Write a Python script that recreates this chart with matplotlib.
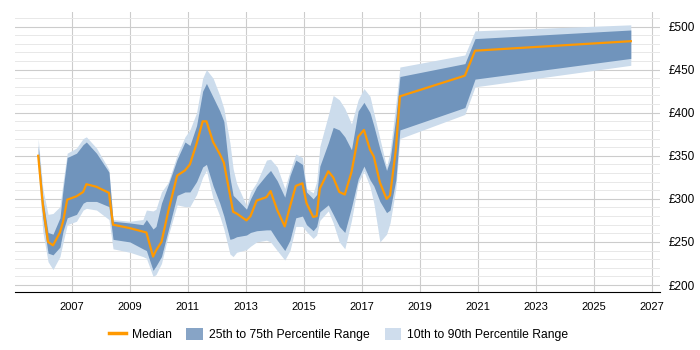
import matplotlib

matplotlib.use("Agg")
import matplotlib.pyplot as plt  # noqa: E402
from matplotlib.patches import Patch  # noqa: E402
from matplotlib.lines import Line2D  # noqa: E402
from matplotlib.ticker import MultipleLocator, FuncFormatter  # noqa: E402

plt.rcParams["font.family"] = ["Liberation Sans", "DejaVu Sans"]

# valores (ano decimal, libras)
years = [2005.84, 2006.00, 2006.18, 2006.35, 2006.59, 2006.70, 2006.84, 2007.16,
         2007.39, 2007.50, 2007.85, 2008.28, 2008.42, 2009.00, 2009.45, 2009.57,
         2009.80, 2009.90, 2010.09, 2010.32, 2010.63, 2010.90, 2011.07, 2011.30,
         2011.51, 2011.64, 2011.87, 2012.10, 2012.24, 2012.45, 2012.56, 2012.68,
         2013.02, 2013.16, 2013.37, 2013.71, 2013.85, 2014.08, 2014.34, 2014.52,
         2014.72, 2014.95, 2015.09, 2015.32, 2015.44, 2015.55, 2015.84, 2016.01,
         2016.22, 2016.41, 2016.64, 2016.87, 2017.07, 2017.28, 2017.41, 2017.62,
         2017.85, 2017.97, 2018.17, 2018.31, 2020.55, 2020.90, 2026.27]

median = [350, 293, 250, 246, 261, 274, 299, 303,
          308, 317, 314, 307, 270, 266, 262, 261,
          233, 240, 250, 285, 327, 333, 340, 364,
          390, 390, 366, 352, 342, 305, 285, 283,
          275, 280, 298, 302, 309, 287, 268, 291,
          315, 318, 295, 279, 280, 312, 332, 325,
          308, 305, 331, 372, 380, 357, 349, 319,
          300, 304, 357, 419, 443, 472, 483]

p25 = [340, 278, 237, 235, 244, 263, 278, 282,
       295, 297, 297, 291, 253, 250, 242, 240,
       217, 222, 233, 263, 304, 308, 308, 320,
       337, 340, 315, 295, 280, 253, 254, 256,
       258, 261, 263, 264, 264, 252, 240, 252,
       278, 280, 270, 263, 268, 285, 293, 282,
       268, 261, 290, 323, 338, 322, 315, 297,
       284, 287, 322, 380, 406, 439, 463]

p75 = [362, 300, 261, 259, 278, 312, 348, 353,
       363, 366, 353, 331, 274, 272, 270, 276,
       265, 268, 295, 316, 346, 366, 362, 385,
       425, 434, 418, 402, 390, 325, 304, 300,
       288, 300, 314, 328, 333, 321, 302, 327,
       345, 340, 308, 300, 305, 338, 365, 383,
       380, 372, 357, 402, 412, 400, 385, 358,
       333, 345, 395, 442, 457, 486, 496]

p10 = [333, 262, 227, 218, 233, 250, 270, 274,
       287, 289, 287, 276, 242, 238, 233, 231,
       210, 212, 225, 257, 293, 291, 291, 305,
       325, 333, 300, 280, 265, 236, 233, 238,
       241, 245, 250, 252, 250, 240, 229, 240,
       268, 268, 262, 254, 258, 275, 286, 272,
       250, 242, 275, 318, 332, 314, 295, 250,
       259, 272, 312, 370, 398, 430, 455]

p90 = [370, 312, 282, 283, 291, 320, 353, 359,
       370, 372, 359, 334, 276, 274, 276, 287,
       286, 288, 308, 319, 351, 372, 380, 400,
       440, 450, 440, 420, 405, 365, 335, 318,
       292, 308, 319, 345, 346, 337, 312, 332,
       352, 348, 312, 307, 320, 361, 397, 420,
       415, 405, 387, 415, 428, 419, 400, 370,
       337, 355, 410, 453, 467, 495, 502]

xticks = list(range(2007, 2028, 2))

fig = plt.figure(figsize=(7, 3.5), dpi=100)
ax = fig.add_axes([0.021, 0.166, 0.922, 0.8])

ax.fill_between(years, p10, p90, color="#ccdcec", linewidth=0, zorder=2)
ax.fill_between(years, p25, p75, color="#7094bc", linewidth=0, zorder=3)
ax.plot(years, median, color="#ff9900", linewidth=1.6, zorder=4)

ax.set_xlim(2005.03, 2027.28)
ax.set_ylim(192, 517)
ax.set_xticks(xticks)
ax.yaxis.set_major_locator(MultipleLocator(50))
ax.yaxis.set_minor_locator(MultipleLocator(10))
ax.yaxis.set_major_formatter(FuncFormatter(lambda v, p: f"£{v:.0f}"))
ax.yaxis.tick_right()
ax.grid(True, which="major", color="#cccccc", linewidth=0.8, zorder=0)
ax.grid(True, which="minor", axis="y", color="#e8e8e8", linewidth=0.7, zorder=0)
ax.set_axisbelow(True)

for side in ("left", "right", "top"):
    ax.spines[side].set_visible(False)
ax.spines["bottom"].set_color("#000000")
ax.tick_params(axis="x", labelsize=8, length=0, pad=7)
ax.tick_params(axis="y", which="both", labelsize=8.5, length=0, pad=6)

handles = [
    Line2D([0], [0], color="#ff9900", linewidth=2.5),
    Patch(facecolor="#87a4c6", edgecolor="none"),
    Patch(facecolor="#cfdded", edgecolor="none"),
]
labels = ["Median", "25th to 75th Percentile Range", "10th to 90th Percentile Range"]
fig.legend(handles, labels, loc="center", bbox_to_anchor=(0.484, 0.045), ncol=3,
           frameon=False, fontsize=8.7, handlelength=1.4, handleheight=1.2,
           columnspacing=1.2, handletextpad=0.5)

fig.savefig("out.png", dpi=100)
plt.close(fig)
